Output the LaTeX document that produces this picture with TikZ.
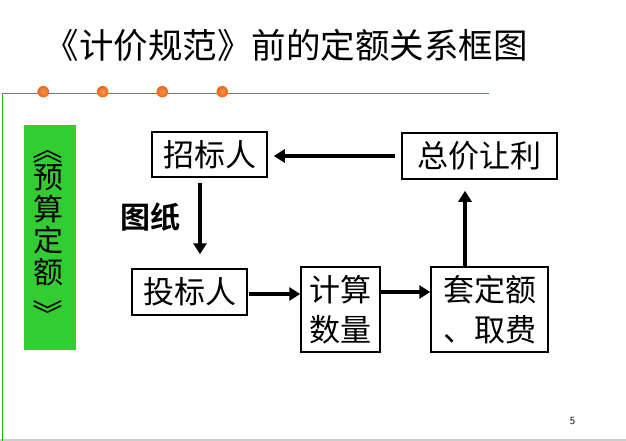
\documentclass[tikz,border=0pt]{standalone}
\usepackage{fontspec}
\usepackage{graphicx}
\usetikzlibrary{arrows.meta,shadings}
\newfontfamily\cjk{Noto Sans CJK SC}
\newfontfamily\cjkb{Noto Sans CJK SC Bold}
\definecolor{slidegreen}{RGB}{30,180,30}
\definecolor{boxgreen}{RGB}{51,204,51}
\definecolor{dotinner}{RGB}{250,150,70}
\definecolor{dotouter}{RGB}{228,105,30}
\tikzset{
  framebox/.style={draw=black, line width=1.5pt, inner sep=0pt, align=center,
    font=\cjk\fontsize{31}{40}\selectfont},
  arr/.style={line width=3.5pt, -{Triangle[length=11pt,width=13pt]}},
  dot/.style={circle, minimum size=11.5pt, inner sep=0pt, shading=radial, inner color=dotinner, outer color=dotouter},
  vchar/.style={inner sep=0pt, font=\cjk\fontsize{30}{30}\selectfont}
}
\begin{document}
\begin{tikzpicture}[x=1pt,y=-1pt]
\useasboundingbox (0,0) rectangle (626,441);
% frame lines
\draw[gray!40, line width=2pt] (0,440) -- (626,440);
\draw[slidegreen, line width=1.2pt] (2.5,441) -- (2.5,93.3) -- (489,93.3);
% dots
\node[dot] (d1) at (43.3,91.7) {};
\node[dot] (d2) at (102.7,91.7) {};
\node[dot] (d3) at (162.3,91.7) {};
\node[dot] (d4) at (222.3,91.7) {};
% title
\node[inner sep=0pt, font=\cjk\fontsize{34.5}{40}\selectfont] (title) at (286,45) {《计价规范》前的定额关系框图};
% green side box
\node[fill=boxgreen, minimum width=52pt, minimum height=225pt, inner sep=0pt] (side) at (50,237.5) {};
\node[vchar] (s0) at (48,150) {\rotatebox{-90}{《}};
\node[vchar] (s1) at (48,178) {预};
\node[vchar] (s2) at (48,209) {算};
\node[vchar] (s3) at (48,240) {定};
\node[vchar] (s4) at (48,272) {额};
\node[vchar] (s5) at (48,314) {\rotatebox{-90}{》}};
% boxes
\node[framebox, minimum width=115pt, minimum height=45pt] (zb) at (209.5,154.5) {招标人};
\node[framebox, minimum width=155pt, minimum height=46pt] (zj) at (479.5,156) {总价让利};
\node[framebox, minimum width=115pt, minimum height=46pt] (tb) at (189.5,292) {投标人};
\node[framebox, minimum width=79pt, minimum height=85pt] (js) at (340.5,309.5) {计算\\数量};
\node[framebox, minimum width=117pt, minimum height=85pt] (tde) at (489.5,309.5) {套定额\\、取费};
% label
\node[inner sep=0pt, font=\cjkb\fontsize{30}{30}\selectfont] (tz) at (150,217.5) {图纸};
% arrows
\draw[arr, shorten <=6pt, shorten >=6pt] (zj.west) -- (zj.west -| zb.east);
\draw[arr, shorten <=5pt, shorten >=14pt] ([xshift=-9.5pt]zb.south) -- ([xshift=-9.5pt]zb.south |- tb.north);
\draw[arr, shorten <=1pt] ([yshift=-2pt]tb.east) -- ([yshift=-2pt]tb.east -| js.west);
\draw[arr] ([yshift=17.5pt]js.east) -- ([yshift=17.5pt]js.east -| tde.west);
\draw[arr, shorten >=11pt] ([xshift=-24.5pt]tde.north) -- ([xshift=-24.5pt]tde.north |- zj.south);
% page number
\node[inner sep=0pt, font=\sffamily\fontsize{11}{11}\selectfont] (pn) at (572.5,421) {5};
\end{tikzpicture}
\end{document}
